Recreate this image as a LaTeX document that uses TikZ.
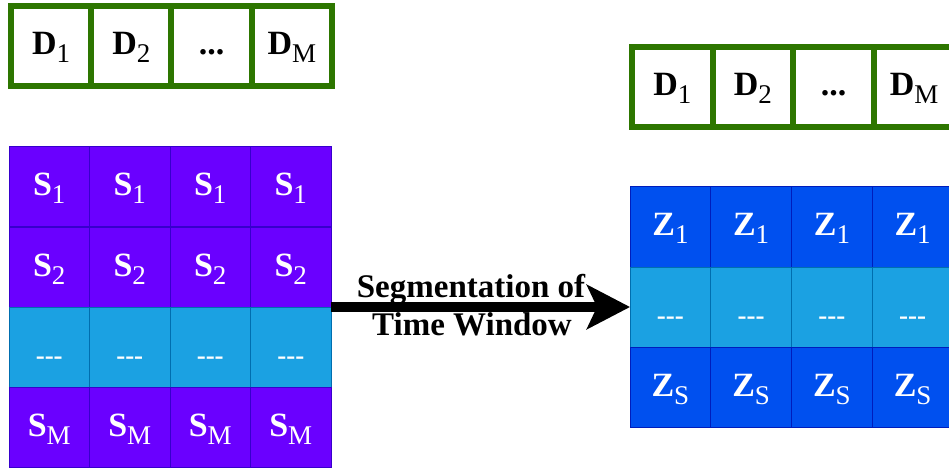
\documentclass[tikz,border=0pt]{standalone}
\usepackage{fontspec}
\setmainfont{Liberation Serif}
\usetikzlibrary{arrows.meta}
\definecolor{dgreen}{HTML}{2D7600}
\definecolor{vfill}{HTML}{6A00FF}
\definecolor{vline}{HTML}{3700CC}
\definecolor{cfill}{HTML}{1BA1E2}
\definecolor{cline}{HTML}{006EAF}
\definecolor{bfill}{HTML}{0050EF}
\definecolor{bline}{HTML}{001DBC}
\newcommand\mysub[1]{\raisebox{-8pt}{\fontsize{27}{27}\selectfont\mdseries #1}}
\tikzset{
  cellbase/.style={rectangle, inner sep=0pt, outer sep=0pt, line width=1pt,
    font=\fontsize{34}{36}\selectfont\bfseries, text height=22pt, text depth=4pt},
  dbox/.style={cellbase, draw=dgreen, fill=white, line width=6pt, text=black,
    minimum width=80.4pt, minimum height=80pt},
  vcell/.style={cellbase, draw=vline, fill=vfill, text=white, minimum width=80.5pt, minimum height=80pt},
  ccell/.style={cellbase, draw=cline, fill=cfill, text=white, minimum height=80pt},
  bcell/.style={cellbase, draw=bline, fill=bfill, text=white, minimum width=80.75pt, minimum height=80pt},
  lbl/.style={font=\fontsize{33}{35}\selectfont\bfseries, inner sep=0pt, anchor=base, text=black},
  bigarrow/.style={line width=10pt, -{Stealth[length=43pt, width=44pt, inset=10pt]}}
}
\begin{document}
\begin{tikzpicture}[x=1pt, y=-1pt]
\useasboundingbox (0,0) rectangle (949,470);
\clip (0,0) rectangle (949,470);
% left D row
\foreach \i/\x/\t in {1/51.1/{D\mysub{1}}, 2/131.4/{D\mysub{2}}, 3/211.6/{...}, 4/291.9/{D\mysub{M}}}
  \node[dbox] (LD\i) at (\x,46) {\t};
% right D row
\foreach \i/\x/\t in {1/672.3/{D\mysub{1}}, 2/752.9/{D\mysub{2}}, 3/833.5/{...}, 4/914.1/{D\mysub{M}}}
  \node[dbox] (RD\i) at (\x,87) {\t};
% left grid
\foreach \i/\x in {1/49.25, 2/129.75, 3/210.25, 4/290.75} {
  \node[vcell] (L1\i) at (\x,187) {S\mysub{1}};
  \node[vcell] (L2\i) at (\x,267) {S\mysub{2}};
  \node[ccell, minimum width=80.5pt] (L3\i) at (\x,347) {\mysub{\bfseries -{}-{}-}};
  \node[vcell] (L4\i) at (\x,427) {S\mysub{M}};
}
% right grid
\foreach \i/\x in {1/670.4, 2/751.1, 3/831.9, 4/912.6} {
  \node[bcell] (R1\i) at (\x,227) {Z\mysub{1}};
  \node[ccell, minimum width=80.75pt] (R2\i) at (\x,307) {\mysub{\bfseries -{}-{}-}};
  \node[bcell] (R3\i) at (\x,387) {Z\mysub{S}};
}
% arrow and label
\node[lbl] (lblA) at (471,297) {Segmentation of};
\node[lbl] (lblB) at (472,335) {Time Window};
\draw[bigarrow] (L24.south east) -- (R21.west);
\end{tikzpicture}
\end{document}
